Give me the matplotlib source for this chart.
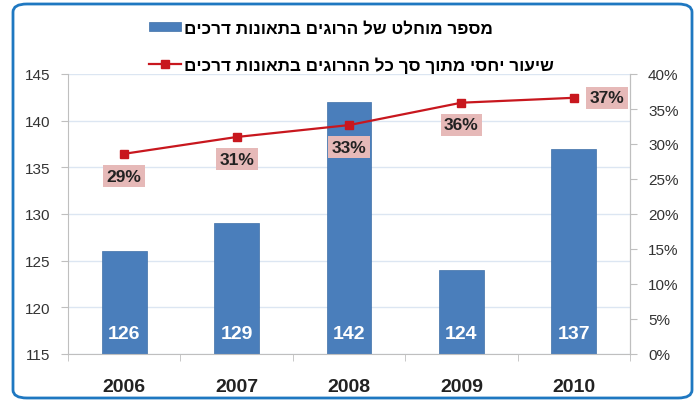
import matplotlib
matplotlib.use("Agg")
import matplotlib.pyplot as plt
from matplotlib.patches import FancyBboxPatch
import numpy as np

plt.rcParams['font.family'] = ['Liberation Sans', 'DejaVu Sans']

years = ["2006", "2007", "2008", "2009", "2010"]
deaths = [126, 129, 142, 124, 137]
share = [28.6, 31.0, 32.7, 35.9, 36.6]
share_labels = ["29%", "31%", "33%", "36%", "37%"]
left_ticks = [115, 120, 125, 130, 135, 140, 145]
right_ticks = [0, 5, 10, 15, 20, 25, 30, 35, 40]
legend_bar = "מספר מוחלט של הרוגים בתאונות דרכים"
legend_line = "שיעור יחסי מתוך סך כל ההרוגים בתאונות דרכים"

def rtl(s):
    return s[::-1]

bar_color = "#4a7ebb"
line_color = "#c8171e"
label_bg = "#e6b9b8"
grid_color = "#dce6f2"
spine_color = "#bfbfbf"

fig = plt.figure(figsize=(7.0, 4.02), dpi=100)
fig.patches.append(FancyBboxPatch((13/700, 3/402), (692-13)/700, (397-3)/402,
                                  boxstyle="round,pad=0,rounding_size=0.02",
                                  transform=fig.transFigure, fill=False,
                                  edgecolor="#1f78c1", linewidth=2.0, zorder=0))

ax = fig.add_axes([68/700, 47/402, (630-68)/700, (355-75)/402])
x = np.arange(len(years))
bars = ax.bar(x, [d - 115 for d in deaths], bottom=115, width=0.4, color=bar_color,
              edgecolor="#3f6fa8", linewidth=0.5, zorder=2, label=rtl(legend_bar))
ax.set_xlim(-0.5, len(years) - 0.5)
ax.set_ylim(115, 145)
ax.set_yticks(left_ticks)
ax.set_yticklabels([str(t) for t in left_ticks], fontsize=11, color="#333333")
ax.set_xticks(x)
ax.set_xticklabels(years, fontsize=14, fontweight="bold", color="#222222")
ax.set_xticks(np.arange(-0.5, len(years)), minor=True)
ax.tick_params(axis='x', which='major', length=0, pad=17)
ax.tick_params(axis='x', which='minor', length=5, color=spine_color, direction='out')
ax.tick_params(axis='y', length=5, color=spine_color, direction='out', pad=8)
ax.grid(axis='y', color=grid_color, linewidth=1.0, zorder=0)
ax.set_axisbelow(True)
ax.spines['top'].set_visible(False)
for side in ['left', 'right', 'bottom']:
    ax.spines[side].set_color(spine_color)

for xi, d in zip(x, deaths):
    ax.text(xi, 117.2, str(d), ha='center', va='center', color='white',
            fontsize=14, fontweight='bold', zorder=3)

ax2 = ax.twinx()
ax2.set_ylim(0, 40)
ax2.set_yticks(right_ticks)
ax2.set_yticklabels([f"{t}%" for t in right_ticks], fontsize=11, color="#333333")
ax2.tick_params(axis='y', length=5, color=spine_color, direction='out', pad=8)
for side in ['top', 'left', 'bottom']:
    ax2.spines[side].set_visible(False)
ax2.spines['right'].set_color(spine_color)
line, = ax2.plot(x, share, color=line_color, linewidth=1.6, marker='s', markersize=6,
                 label=rtl(legend_line), zorder=4)

for i, (xi, s, lab) in enumerate(zip(x, share, share_labels)):
    if i == len(years) - 1:
        off = (24, 0)
    else:
        off = (0, -16)
    ax2.annotate(lab, (xi, s), xytext=off, textcoords='offset points',
                 ha='center', va='center', fontsize=12.5, fontweight='bold', color="#222222",
                 bbox=dict(boxstyle='square,pad=0.2', facecolor=label_bg, edgecolor='none'),
                 zorder=5)

leg = fig.legend(handles=[bars, line], loc='upper left', bbox_to_anchor=(142/700, 387/402),
                 frameon=False, prop={'size': 12.3, 'weight': 'bold'}, handlelength=1.9,
                 handleheight=0.45, handletextpad=0.15, labelspacing=1.2, borderaxespad=0)

fig.savefig("out.png", dpi=100)
